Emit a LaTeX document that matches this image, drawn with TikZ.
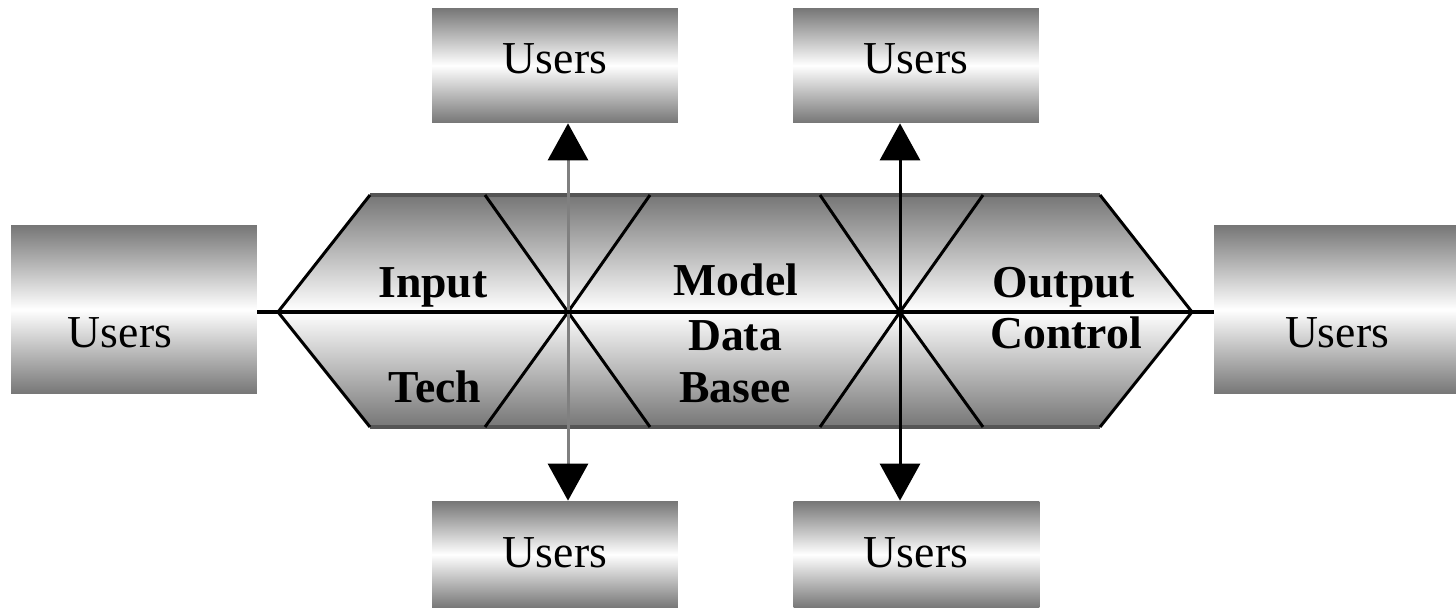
\documentclass[tikz,border=0pt]{standalone}
\usepackage{fontspec}
\setmainfont{Liberation Serif}
\usetikzlibrary{arrows.meta}
\definecolor{ushade}{RGB}{118,118,118}
\definecolor{edgegray}{RGB}{85,85,85}
\definecolor{vgray}{RGB}{128,128,128}
\begin{document}
\begin{tikzpicture}[x=0.02cm,y=-0.02cm,
  ubox/.style={shape=rectangle, inner sep=0pt, top color=ushade, bottom color=ushade, middle color=white, minimum width=4.92cm},
  utext/.style={anchor=base, font=\fontsize{26}{28}\selectfont, inner sep=0pt},
  htext/.style={anchor=base, font=\bfseries\fontsize{26}{28}\selectfont, inner sep=0pt},
  bothtips/.style={{Triangle[width=0.8cm,length=0.74cm,color=black]}-{Triangle[width=0.8cm,length=0.74cm,color=black]}},
  diag/.style={line width=0.06cm, black},
  hedge/.style={line width=0.08cm, edgegray},
]
\useasboundingbox (0,0) rectangle (1456,608);

% Users boxes
\node[ubox, minimum height=2.3cm] (T1) at (555,65.5) {};
\node[ubox, minimum height=2.3cm] (T2) at (916,65.5) {};
\node[ubox, minimum height=2.14cm] (B1) at (555,554.5) {};
\node[ubox, minimum height=2.14cm] (B2) at (916.5,554.5) {};
\node[ubox, minimum height=3.38cm] (L) at (134,309.5) {};
\node[ubox, minimum height=3.38cm, minimum width=4.84cm] (R) at (1335,309.5) {};

\node[utext] (T1t) at (555,73) {Users};
\node[utext] (T2t) at (916,73) {Users};
\node[utext] (B1t) at (555,567) {Users};
\node[utext] (B2t) at (916,567) {Users};
\node[utext] (Lt) at (120,347) {Users};
\node[utext] (Rt) at (1337,347) {Users};

% hexagon
\coordinate (hl) at (278,312);
\coordinate (htl) at (370,195);
\coordinate (htr) at (1100,195);
\coordinate (hr) at (1192,312);
\coordinate (hbr) at (1100,427);
\coordinate (hbl) at (370,427);
\coordinate (x1) at (568,312);
\coordinate (x2) at (900,312);

\shade[top color=ushade, bottom color=ushade, middle color=white]
  (hl) -- (htl) -- (htr) -- (hr) -- (hbr) -- (hbl) -- cycle;
\draw[hedge] (htl) -- (htr);
\draw[hedge] (hbl) -- (hbr);
\draw[diag] (htl) -- (hl) -- (hbl);
\draw[diag] (htr) -- (hr) -- (hbr);

% X crossings
\coordinate (a1t) at (485,195); \coordinate (b1t) at (650,195);
\coordinate (a1b) at (485,427); \coordinate (b1b) at (650,427);
\coordinate (a2t) at (820,195); \coordinate (b2t) at (983,195);
\coordinate (a2b) at (820,427); \coordinate (b2b) at (983,427);
\draw[diag] (a1t) -- (x1) -- (b1b);
\draw[diag] (b1t) -- (x1) -- (a1b);
\draw[diag] (a2t) -- (x2) -- (b2b);
\draw[diag] (b2t) -- (x2) -- (a2b);

% vertical arrows
\draw[bothtips, line width=0.06cm, vgray] (x1 |- B1.north) -- (x1 |- T1.south);
\draw[bothtips, line width=0.06cm, black] (x2 |- B2.north) -- (x2 |- T2.south);

% horizontal line
\draw[line width=0.08cm, black] (L.east |- x1) -- (R.west |- x1);

% labels
\node[htext] (input) at (433,297) {Input};
\node[htext] (tech) at (435,402) {Tech};
\node[htext] (model) at (736,295) {Model};
\node[htext] (data) at (735,350) {Data};
\node[htext] (basee) at (735,402) {Basee};
\node[htext] (output) at (1064,297) {Output};
\node[htext] (control) at (1066,348) {Control};
\end{tikzpicture}
\end{document}
